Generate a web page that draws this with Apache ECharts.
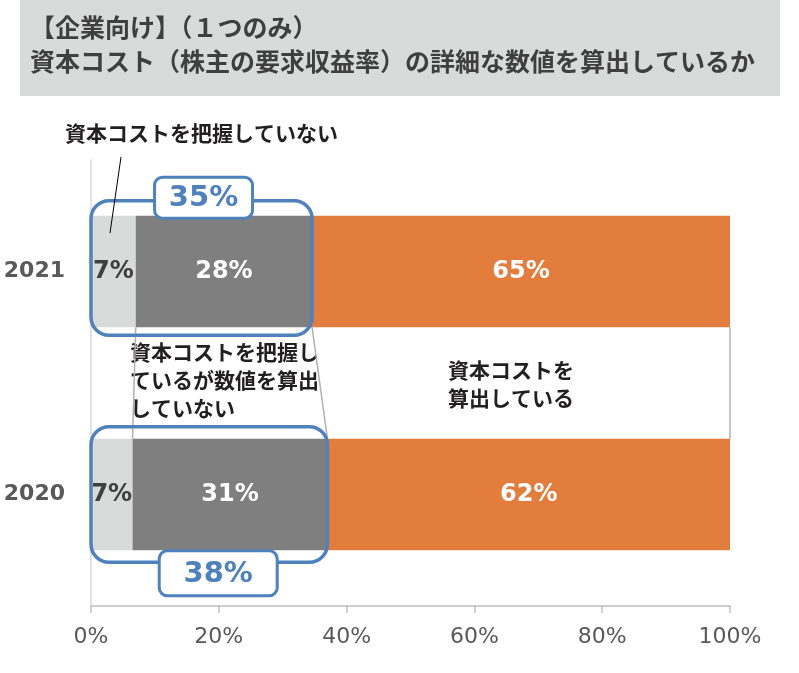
<!DOCTYPE html>
<html>
<head>
<meta charset="utf-8">
<script src="https://cdn.jsdelivr.net/npm/echarts@6/dist/echarts.min.js"></script>
<style>
html,body{margin:0;padding:0;background:#fff}
#main{width:799px;height:673px}
</style>
</head>
<body>
<div id="main"></div>
<script>
/*データ*/
var years = ['2021', '2020'];
var notGrasped = [7.0, 6.5];          // 資本コストを把握していない
var notCalculated = [27.6, 30.5];     // 把握しているが数値を算出していない
var calculated = [65.4, 63.0];        // 資本コストを算出している
var notGraspedLabel = [7, 7];
var notCalculatedLabel = [28, 31];
var calculatedLabel = [65, 62];
var subtotalLabel = [35, 38];
var xTicks = [0, 20, 40, 60, 80, 100];

var jp = '"Noto Sans CJK JP", sans-serif';
var num = '"DejaVu Sans", sans-serif';
var blue = '#4f81bd';

/*積み上げの境界*/
var segs = [notGrasped, notCalculated, calculated];
var links = [];
var c0 = 0, c1 = 0;
for (var k = 0; k < segs.length; k++) {
    c0 += segs[k][0];
    c1 += segs[k][1];
    links.push([c0, 0, c1, 1]);
}
var boxes = [];
for (var i = 0; i < years.length; i++) {
    boxes.push([notGrasped[i] + notCalculated[i], i]);
}

var chart = echarts.init(document.getElementById('main'));

function barLabel(arr, color) {
    return {
        show: true,
        position: 'inside',
        color: color,
        fontSize: 24,
        fontWeight: 'bold',
        fontFamily: num,
        formatter: function (p) { return arr[p.dataIndex] + '%'; }
    };
}

chart.setOption({
    animation: false,
    grid: { left: 91, right: 69, top: 160, bottom: 67 },
    xAxis: {
        type: 'value',
        min: xTicks[0],
        max: xTicks[xTicks.length - 1],
        interval: 20,
        axisLine: { show: true, lineStyle: { color: '#bfbfbf', width: 1.5 } },
        axisTick: { show: true, length: 7, lineStyle: { color: '#bfbfbf', width: 1.5 } },
        splitLine: { show: false },
        axisLabel: { formatter: '{value}%', color: '#595959', fontSize: 22, fontFamily: num, margin: 20 }
    },
    yAxis: {
        type: 'category',
        inverse: true,
        data: years,
        axisLine: { show: true, lineStyle: { color: '#d9d9d9', width: 1.5 } },
        axisTick: { show: false },
        axisLabel: { color: '#595959', fontSize: 22, fontWeight: 'bold', fontFamily: num, margin: 26 }
    },
    series: [
        {
            type: 'bar', stack: 'a', barWidth: '50%', data: notGrasped,
            itemStyle: { color: '#d9dada' },
            label: barLabel(notGraspedLabel, '#404040')
        },
        {
            type: 'bar', stack: 'a', barWidth: '50%', data: notCalculated,
            itemStyle: { color: '#7f7f7f' },
            label: barLabel(notCalculatedLabel, '#ffffff')
        },
        {
            type: 'bar', stack: 'a', barWidth: '50%', data: calculated,
            itemStyle: { color: '#e27d3e' },
            label: barLabel(calculatedLabel, '#ffffff')
        },
        {
            /*系列線*/
            type: 'custom',
            data: links,
            encode: { x: [0, 2], y: [1, 3] },
            z: 1,
            renderItem: function (params, api) {
                var p0 = api.coord([api.value(0), api.value(1)]);
                var p1 = api.coord([api.value(2), api.value(3)]);
                var half = api.size([0, 1])[1] * 0.25;
                return {
                    type: 'line',
                    shape: { x1: p0[0], y1: p0[1] + half, x2: p1[0], y2: p1[1] - half },
                    style: { stroke: '#b0b0b0', lineWidth: 1.5 }
                };
            }
        },
        {
            /*青枠*/
            type: 'custom',
            data: boxes,
            encode: { x: 0, y: 1 },
            z: 10,
            renderItem: function (params, api) {
                var idx = params.dataIndex;
                var padTop = [15, 12][idx], padBottom = [8, 12][idx];
                var x0 = api.coord([0, idx])[0];
                var pe = api.coord([api.value(0), idx]);
                var half = api.size([0, 1])[1] * 0.25;
                var top = pe[1] - half - padTop;
                var bottom = pe[1] + half + padBottom;
                var cx = (x0 + pe[0]) / 2 + [2, 9][idx];
                var lw = [98, 118][idx], lh = [41, 45][idx];
                var ly = idx === 0 ? top - 3 : bottom + 11;
                return {
                    type: 'group',
                    children: [
                        {
                            type: 'rect',
                            shape: { x: x0, y: top, width: pe[0] - x0, height: bottom - top, r: 18 },
                            style: { fill: 'none', stroke: blue, lineWidth: 3.5 }
                        },
                        {
                            type: 'rect',
                            shape: { x: cx - lw / 2, y: ly - lh / 2, width: lw, height: lh, r: 8 },
                            style: { fill: '#ffffff', stroke: blue, lineWidth: 3 }
                        },
                        {
                            type: 'text',
                            style: {
                                text: subtotalLabel[idx] + '%',
                                x: cx, y: ly + 1,
                                align: 'center', verticalAlign: 'middle',
                                textAlign: 'center', textVerticalAlign: 'middle',
                                fill: blue, fontSize: 29, fontWeight: 'bold', fontFamily: num
                            }
                        }
                    ]
                };
            }
        }
    ],
    graphic: [
        { type: 'rect', shape: { x: 20, y: 0, width: 760, height: 96 }, style: { fill: '#d9dada' }, z: -1 },
        {
            type: 'text', x: 30, y: 10,
            style: {
                text: '【企業向け】（１つのみ）\n資本コスト（株主の要求収益率）の詳細な数値を算出しているか',
                fill: '#3f3f3f', fontSize: 25, fontWeight: 'bold', fontFamily: jp, lineHeight: 34
            }
        },
        {
            type: 'text', x: 65, y: 133,
            style: { text: '資本コストを把握していない', fill: '#231f20', fontSize: 21, fontWeight: 'bold', fontFamily: jp, verticalAlign: 'middle' }
        },
        { type: 'line', shape: { x1: 121, y1: 157, x2: 110, y2: 233 }, style: { stroke: '#000', lineWidth: 1 }, z: 20 },
        {
            type: 'text', x: 130, y: 338,
            style: { text: '資本コストを把握し\nているが数値を算出\nしていない', fill: '#231f20', fontSize: 21, fontWeight: 'bold', fontFamily: jp, lineHeight: 28 }
        },
        {
            type: 'text', x: 448, y: 356,
            style: { text: '資本コストを\n算出している', fill: '#231f20', fontSize: 21, fontWeight: 'bold', fontFamily: jp, lineHeight: 28 }
        }
    ]
});
</script>
</body>
</html>
